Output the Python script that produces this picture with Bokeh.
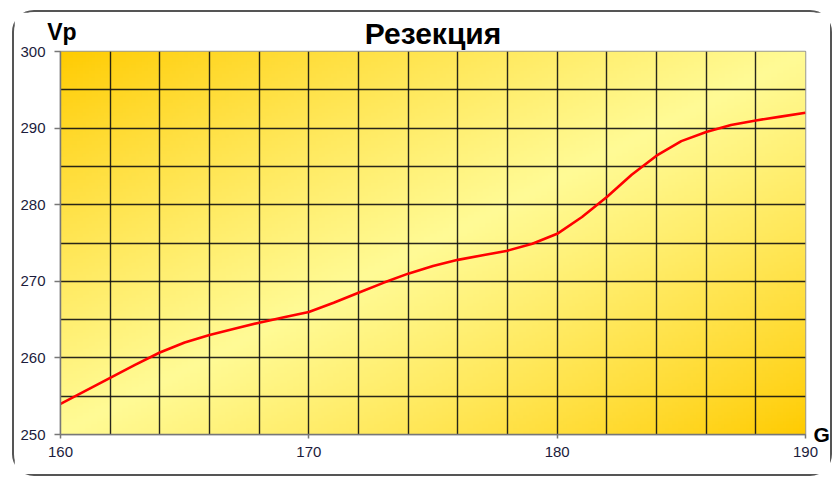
import numpy as np
from bokeh.plotting import figure
from bokeh.models import FixedTicker, SingleIntervalTicker, LinearAxis
from bokeh.embed import file_html
from bokeh.resources import INLINE

# Data
g_values = [160, 161, 162, 163, 164, 165, 166, 167, 168, 169, 170,
            171, 172, 173, 174, 175, 176, 177, 178, 179, 180,
            181, 182, 183, 184, 185, 186, 187, 188, 189, 190]
vp_values = [254.0, 255.7, 257.4, 259.1, 260.7, 262.0, 263.0, 263.8, 264.6, 265.3, 266.0,
             267.2, 268.5, 269.8, 271.0, 272.0, 272.8, 273.4, 274.0, 274.9, 276.2,
             278.4, 281.0, 283.9, 286.4, 288.3, 289.5, 290.4, 291.0, 291.5, 292.0]
x_ticks = [160, 170, 180, 190]
y_ticks = [250, 260, 270, 280, 290, 300]
title_text = "Резекция"
x_name = "G"
y_name = "Vp"

X0, X1 = 160, 190
Y0, Y1 = 250, 300

p = figure(width=820, height=466, x_range=(X0, X1), y_range=(Y0, Y1),
           output_backend="svg", toolbar_location=None,
           min_border_left=46, min_border_top=39, min_border_right=29, min_border_bottom=44)
p.styles = {"border": "2px solid #555555", "border-radius": "22px",
            "box-sizing": "border-box", "margin-left": "12px", "margin-top": "10px"}
p.background_fill_color = "#FFFA99"
p.border_fill_color = "white"
p.outline_line_color = "#999999"
p.outline_line_width = 1.5

# diagonal gradient background: gold -> pale yellow -> gold
ny, nx = 120, 240
gold = np.array([255, 203, 0], dtype=float)
pale = np.array([255, 251, 150], dtype=float)
jj, ii = np.meshgrid(np.arange(nx), np.arange(ny))
u = jj / (nx - 1)
v = 1 - ii / (ny - 1)  # fraction from top
t = (u + v)  # 0..2
w = 1 - np.abs(t - 1)
w = np.clip(w, 0, 1) ** 0.85
cols = gold[None, None, :] * (1 - w[..., None]) + pale[None, None, :] * w[..., None]
img = np.empty((ny, nx), dtype=np.uint32)
view = img.view(dtype=np.uint8).reshape((ny, nx, 4))
view[..., 0] = cols[..., 0].astype(np.uint8)
view[..., 1] = cols[..., 1].astype(np.uint8)
view[..., 2] = cols[..., 2].astype(np.uint8)
view[..., 3] = 255
bg = p.image_rgba(image=[img], x=X0, y=Y0, dw=X1 - X0, dh=Y1 - Y0)
bg.level = "image"

# grid
p.xgrid.ticker = SingleIntervalTicker(interval=2)
p.ygrid.ticker = SingleIntervalTicker(interval=5)
for gr in (p.xgrid, p.ygrid):
    gr.grid_line_color = "#111111"
    gr.grid_line_width = 1.4
    gr.grid_line_alpha = 0.9

# axes
p.xaxis.ticker = FixedTicker(ticks=x_ticks)
p.yaxis.ticker = FixedTicker(ticks=y_ticks)
for ax in (p.xaxis[0], p.yaxis[0]):
    ax.axis_line_color = "#777777"
    ax.axis_line_width = 1.5
    ax.major_tick_line_color = "#777777"
    ax.major_tick_line_width = 1.5
    ax.minor_tick_line_color = None
    ax.major_tick_in = 0
    ax.major_label_text_font = "Liberation Sans"
    ax.major_label_text_font_size = "15px"
    ax.major_label_text_color = "#1c1c3c"
p.xaxis.major_tick_out = 4
p.xaxis.major_label_standoff = 8
p.yaxis.major_tick_out = 6
p.yaxis.major_label_standoff = 9

# top axis: carries the "Vp" name (at the left end) and the chart title
VP_AT = X0 + 0.06
top = LinearAxis(ticker=FixedTicker(ticks=[VP_AT]),
                 major_label_overrides={VP_AT: y_name},
                 axis_line_color=None, major_tick_line_color=None, minor_tick_line_color=None,
                 major_tick_in=0, major_tick_out=0, major_label_standoff=7,
                 major_label_text_font="Liberation Sans", major_label_text_font_style="bold",
                 major_label_text_font_size="23px", major_label_text_color="#000000",
                 axis_label=title_text, axis_label_standoff=-34,
                 axis_label_text_font="Liberation Sans", axis_label_text_font_style="bold",
                 axis_label_text_font_size="30px", axis_label_text_color="#000000")
p.add_layout(top, "above")

# right axis: carries the "G" name next to the end of the x axis
right = LinearAxis(ticker=FixedTicker(ticks=[Y0]),
                   major_label_overrides={Y0: x_name},
                   axis_line_color=None, major_tick_line_color=None, minor_tick_line_color=None,
                   major_tick_in=0, major_tick_out=0, major_label_standoff=8,
                   major_label_text_font="Liberation Sans", major_label_text_font_style="bold",
                   major_label_text_font_size="21px", major_label_text_color="#000000")
p.add_layout(right, "right")

# curve
p.line(g_values, vp_values, line_color="#FF0000", line_width=2.6, line_join="round")

open("out.html", "w").write(file_html(p, INLINE))
